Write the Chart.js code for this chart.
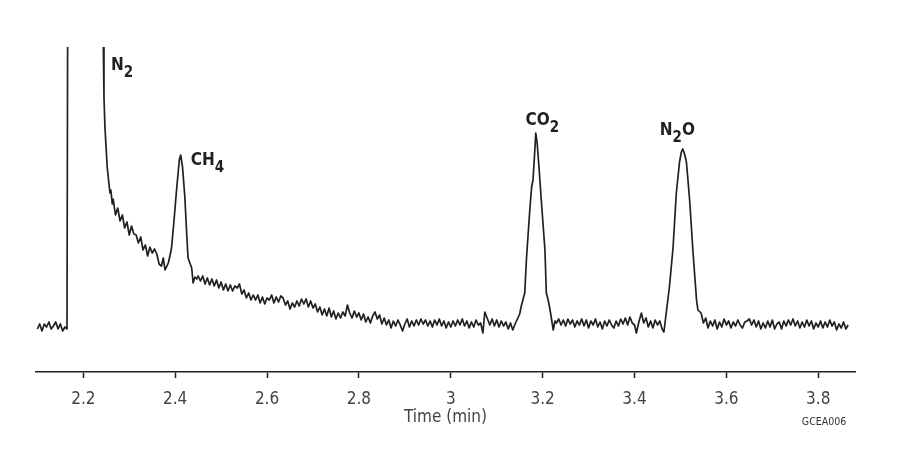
<!DOCTYPE html>
<html>
<head>
<meta charset="utf-8">
<title>GC chromatogram</title>
<script src="https://cdn.jsdelivr.net/npm/chart.js@4/dist/chart.umd.min.js"></script>
<style>
    html, body { margin: 0; padding: 0; background: #fff; }
</style>
</head>
<body>
<canvas id="gcChart" width="906" height="451"></canvas>
<script>
// retention time (min) of each sample of the detector trace
const times = [
    2.100, 2.105, 2.110, 2.115, 2.120, 2.125, 2.130, 2.135, 2.140, 2.145,
    2.150, 2.155, 2.160, 2.1645, 2.1675, 2.200, 2.240,
    2.243, 2.245, 2.247, 2.249, 2.252, 2.255, 2.258, 2.260, 2.263, 2.265,
    2.270, 2.275, 2.280, 2.285, 2.290, 2.295, 2.300, 2.305, 2.310, 2.315,
    2.320, 2.325, 2.330, 2.335, 2.340, 2.345, 2.350, 2.355, 2.360, 2.365,
    2.370, 2.374, 2.378, 2.382, 2.385, 2.389, 2.392, 2.397, 2.403, 2.409,
    2.412, 2.416, 2.421, 2.425, 2.428, 2.432, 2.436, 2.439, 2.443, 2.447,
    2.450, 2.455,
    2.460, 2.465, 2.470, 2.475, 2.480, 2.485, 2.490, 2.495, 2.500, 2.505,
    2.510, 2.515, 2.520, 2.525, 2.530, 2.535, 2.540, 2.545, 2.550, 2.555,
    2.560, 2.565, 2.570, 2.575, 2.580, 2.585, 2.590, 2.595, 2.600, 2.605,
    2.610, 2.615, 2.620, 2.625, 2.630, 2.635, 2.640, 2.645, 2.650, 2.655,
    2.660, 2.665, 2.670, 2.675, 2.680, 2.685, 2.690, 2.695, 2.700, 2.705,
    2.710, 2.715, 2.720, 2.725, 2.730, 2.735, 2.740, 2.745, 2.750, 2.755,
    2.760, 2.765, 2.770, 2.775, 2.780, 2.785, 2.790, 2.795, 2.800, 2.805,
    2.810, 2.815, 2.820, 2.825, 2.830, 2.835, 2.840, 2.845, 2.850, 2.855,
    2.860, 2.865, 2.870, 2.875, 2.880, 2.885, 2.890, 2.895, 2.900, 2.905,
    2.910, 2.915, 2.920, 2.925, 2.930, 2.935, 2.940, 2.945, 2.950, 2.955,
    2.960, 2.965, 2.970, 2.975, 2.980, 2.985, 2.990, 2.995, 3.000,
    3.005, 3.010, 3.015, 3.020, 3.025, 3.030, 3.035, 3.040, 3.045, 3.050,
    3.055, 3.060, 3.065, 3.070, 3.074, 3.080, 3.085, 3.090, 3.095, 3.100,
    3.105, 3.110, 3.115, 3.120, 3.125, 3.130, 3.135, 3.140, 3.146, 3.150,
    3.154, 3.157, 3.161, 3.165, 3.172, 3.176, 3.179, 3.183, 3.185, 3.188,
    3.192, 3.197, 3.205, 3.208, 3.212, 3.215, 3.219, 3.223, 3.227, 3.230,
    3.235, 3.240, 3.245, 3.250, 3.255, 3.260, 3.265, 3.270, 3.275, 3.280,
    3.285, 3.290, 3.295, 3.300, 3.305, 3.310, 3.315, 3.320, 3.325, 3.330,
    3.335, 3.340, 3.345, 3.350, 3.355, 3.360, 3.365, 3.370, 3.375, 3.380,
    3.385, 3.390, 3.395, 3.400, 3.404, 3.410, 3.415, 3.420, 3.425, 3.430,
    3.435, 3.440, 3.445, 3.450, 3.455, 3.460, 3.464, 3.469, 3.476, 3.484,
    3.491, 3.498, 3.502, 3.505, 3.509, 3.513, 3.520, 3.527, 3.535, 3.538,
    3.545, 3.550, 3.555,
    3.560, 3.565, 3.570, 3.575, 3.580, 3.585, 3.590, 3.595, 3.600, 3.605,
    3.610, 3.615, 3.620, 3.625, 3.630, 3.635, 3.640, 3.645, 3.650, 3.655,
    3.660, 3.665, 3.670, 3.675, 3.680, 3.685, 3.690, 3.695, 3.700, 3.705,
    3.710, 3.715, 3.720, 3.725, 3.730, 3.735, 3.740, 3.745, 3.750, 3.755,
    3.760, 3.765, 3.770, 3.775, 3.780, 3.785, 3.790, 3.795, 3.800, 3.805,
    3.810, 3.815, 3.820, 3.825, 3.830, 3.835, 3.840, 3.845, 3.850, 3.855,
    3.860, 3.865
];

// detector signal (arbitrary units, baseline ~0), same order as times
const signal = [
    -3, 2, -5, 2, -1, 4, -3, 0, 4, -3,
    2, -5, -1, -3, 650, 700, 650,
    300, 229, 200, 183, 159, 146, 133, 136, 122, 127,
    111, 118, 105, 111, 98, 104, 91, 100, 92, 91,
    83, 89, 76, 81, 70, 79, 73, 77, 72, 62,
    60, 68, 56, 60, 63, 71, 78, 103, 136, 166,
    171, 159, 129, 93, 68, 63, 58, 43, 49, 47,
    50, 45,
    50, 42, 48, 41, 47, 40, 46, 38, 44, 36,
    42, 35, 41, 35, 40, 38, 42, 32, 36, 28,
    33, 26, 31, 26, 31, 23, 29, 22, 28, 26,
    31, 23, 29, 24, 30, 28, 21, 25, 17, 23,
    19, 25, 20, 27, 22, 27, 19, 25, 18, 22,
    14, 19, 11, 17, 10, 18, 9, 15, 7, 13,
    8, 14, 10, 21, 13, 8, 15, 9, 13, 6,
    12, 4, 9, 3, 10, 14, 7, 11, 2, 8,
    1, 6, -2, 5, 0, 6, 1, -5, 2, 7,
    -1, 5, 0, 6, 1, 7, 2, 6, 0, 5,
    -1, 6, 1, 7, 0, 5, -2, 4, -1,
    5, 0, 6, 1, 7, 0, 5, -2, 4, -1,
    6, 1, 3, -7, 14, 7, 1, 7, 0, 6,
    -1, 5, 0, 4, -3, 3, -4, 2, 8, 12,
    21, 26, 33, 69, 116, 139, 146, 176, 193, 183,
    159, 126, 76, 33, 26, 19, 8, -4, 5, 3,
    7, 1, 6, 0, 7, 2, 6, -1, 5, 1,
    7, 0, 6, -2, 5, 1, 7, -1, 4, -3,
    5, 0, 6, 1, -2, 5, 0, 7, 2, 8,
    1, 9, 3, 1, -7, 5, 13, 3, 8, -1,
    5, -2, 6, 1, 5, -3, -6, 13, 39, 79,
    133, 164, 174, 177, 172, 164, 126, 76, 26, 16,
    13, 3, 8,
    -2, 5, 0, 6, -3, 4, -1, 7, 1, 5,
    -2, 4, 0, 6, 1, -2, 4, 5, 7, 1,
    6, -1, 5, -3, 3, -2, 5, -1, 6, -3,
    2, 4, -3, 5, 0, 6, 1, 7, 0, 5,
    -2, 4, -1, 6, 0, 5, -3, 3, -1, 5,
    -2, 4, -1, 6, 0, 4, -4, 2, -2, 4,
    -3, 1
];

const tickValues = [2.2, 2.4, 2.6, 2.8, 3, 3.2, 3.4, 3.6, 3.8];
const peakNames = ['N2', 'CH4', 'CO2', 'N2O'];

const narrow = "'Liberation Sans Narrow', 'DejaVu Sans Condensed', 'Liberation Sans', sans-serif";
const ink = '#231f20';

// peak names with digits set as subscripts, plus the figure code
const peakLabelPlugin = {
    id: 'peakLabels',
    afterDatasetsDraw(chart, args, opts) {
        const { ctx, scales: { x, y } } = chart;
        ctx.save();
        ctx.fillStyle = ink;
        ctx.textAlign = 'left';
        ctx.textBaseline = 'alphabetic';
        peakNames.forEach((name, i) => {
            const spot = opts.spots[i];
            let px = x.getPixelForValue(spot[0]);
            const py = y.getPixelForValue(spot[1]);
            name.match(/\D+|\d+/g).forEach(part => {
                const sub = /\d/.test(part);
                ctx.font = sub ? opts.subFont : opts.font;
                ctx.fillText(part, px, sub ? py + opts.subDrop : py);
                px += ctx.measureText(part).width;
            });
        });
        ctx.font = opts.codeFont;
        ctx.fillStyle = '#333';
        ctx.textAlign = 'center';
        ctx.fillText('GCEA006', opts.codeAt[0], opts.codeAt[1]);
        ctx.restore();
    }
};

const points = times.map((t, i) => ({ x: t, y: signal[i] }));

new Chart(document.getElementById('gcChart'), {
    type: 'line',
    data: {
        datasets: [{
            data: points,
            borderColor: ink,
            borderWidth: 1.7,
            borderJoinStyle: 'round',
            pointRadius: 0,
            tension: 0,
            fill: false
        }]
    },
    options: {
        responsive: false,
        animation: false,
        layout: { padding: { left: 36, right: 51, top: 47, bottom: 0 } },
        plugins: {
            legend: { display: false },
            tooltip: { enabled: false },
            peakLabels: {
                spots: [[2.2603, 256], [2.4337, 161], [3.1626, 201], [3.4548, 191]],
                font: 'bold 17px ' + narrow,
                subFont: 'bold 15px ' + narrow,
                subDrop: 7,
                codeFont: '10.5px ' + narrow,
                codeAt: [824, 425]
            }
        },
        scales: {
            x: {
                type: 'linear',
                min: 2.097,
                max: 3.88,
                afterBuildTicks: axis => { axis.ticks = tickValues.map(v => ({ value: v })); },
                afterFit: axis => { axis.height = 79; },
                grid: {
                    drawOnChartArea: false,
                    drawTicks: true,
                    tickLength: 6,
                    tickWidth: 1.5,
                    tickColor: ink
                },
                border: { display: true, color: ink, width: 1.5 },
                ticks: {
                    padding: 11,
                    color: '#444',
                    maxRotation: 0,
                    autoSkip: false,
                    font: { family: narrow, size: 17 },
                    callback: v => String(v)
                },
                title: {
                    display: true,
                    text: 'Time (min)',
                    color: '#444',
                    font: { family: narrow, size: 17 },
                    padding: { top: 0, bottom: 23 }
                }
            },
            y: {
                display: false,
                min: -46,
                max: 279
            }
        }
    },
    plugins: [peakLabelPlugin]
});
</script>
</body>
</html>
